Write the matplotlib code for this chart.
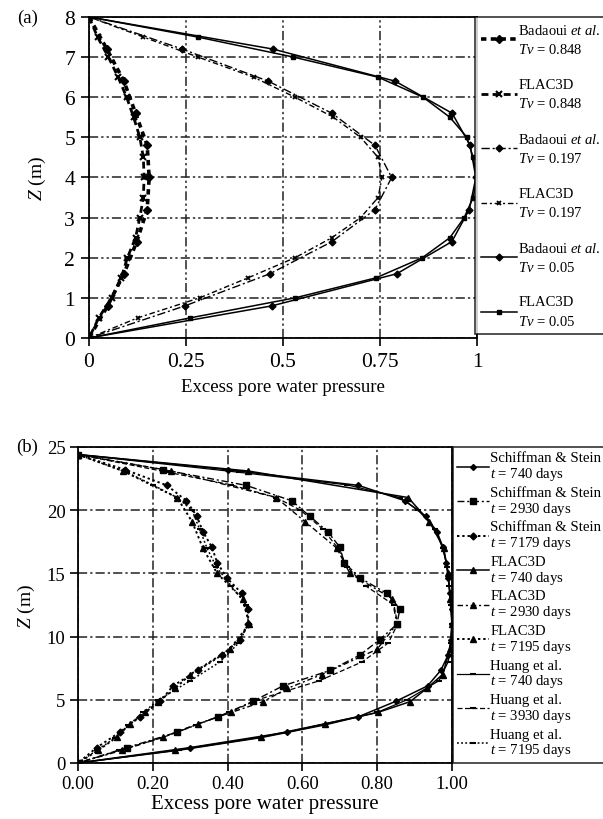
import matplotlib.pyplot as plt
import numpy as np

plt.rcParams['font.family'] = ['Liberation Serif', 'DejaVu Serif']
plt.rcParams['mathtext.fontset'] = 'custom'
plt.rcParams['mathtext.rm'] = 'Liberation Serif'
plt.rcParams['mathtext.it'] = 'Liberation Serif:italic'

# (a) double drained layer, 8 m
z_bad = [8, 7.2, 6.4, 5.6, 4.8, 4.0, 3.2, 2.4, 1.6, 0.8, 0]
z_flac = [8, 7.5, 7, 6.5, 6, 5.5, 5, 4.5, 4, 3.5, 3, 2.5, 2, 1.5, 1, 0.5, 0]

bad_0848 = [0, 0.046, 0.09, 0.12, 0.15, 0.155, 0.15, 0.123, 0.09, 0.048, 0]
flac_0848 = [0, 0.022, 0.05, 0.075, 0.097, 0.115, 0.131, 0.14, 0.142, 0.14,
             0.131, 0.12, 0.099, 0.083, 0.058, 0.025, 0]
bad_0197 = [0, 0.24, 0.462, 0.626, 0.737, 0.78, 0.737, 0.626, 0.466, 0.247, 0]
flac_0197 = [0, 0.14, 0.281, 0.424, 0.531, 0.63, 0.70, 0.745, 0.755, 0.745,
             0.70, 0.626, 0.531, 0.41, 0.285, 0.125, 0]
bad_005 = [0, 0.474, 0.789, 0.936, 0.982, 0.997, 0.98, 0.935, 0.793, 0.471, 0]
flac_005 = [0, 0.28, 0.527, 0.745, 0.861, 0.93, 0.974, 0.99, 1.0, 0.99,
            0.967, 0.93, 0.859, 0.74, 0.531, 0.26, 0]

# (b) Schiffman & Stein layered clay, 24.4 m
z_ss = [24.4, 23.2, 21.96, 20.74, 19.52, 18.3, 17.08, 15.86, 14.64, 13.42,
        12.2, 10.98, 9.76, 8.54, 7.32, 6.1, 4.88, 3.66, 2.44, 1.22, 0]
z_fl = [24.4, 23.1, 21.0, 19.1, 17.0, 15.0, 13.0, 11.0, 9.0, 7.0, 5.9, 4.85,
        4.0, 3.1, 2.05, 1.0, 0]
z_hu = [24.4, 23.0, 22.0, 21.0, 20.0, 18.5, 17.0, 15.5, 14.0, 12.5, 11.0,
        9.5, 8.0, 6.5, 5.0, 4.0, 3.0, 2.0, 1.0, 0]

ss_740 = [0, 0.40, 0.75, 0.875, 0.93, 0.96, 0.976, 0.985, 0.99, 0.995, 1.0,
          1.0, 0.998, 0.99, 0.97, 0.935, 0.85, 0.75, 0.559, 0.30, 0]
ss_2930 = [0, 0.228, 0.45, 0.572, 0.62, 0.668, 0.70, 0.712, 0.754, 0.826,
           0.861, 0.853, 0.807, 0.754, 0.674, 0.548, 0.468, 0.375, 0.265,
           0.131, 0]
ss_7179 = [0, 0.126, 0.238, 0.29, 0.318, 0.334, 0.358, 0.372, 0.398, 0.438,
           0.455, 0.455, 0.433, 0.385, 0.32, 0.254, 0.22, 0.166, 0.112, 0.05, 0]

fl_740 = [0, 0.455, 0.883, 0.94, 0.978, 0.99, 0.995, 1.0, 0.995, 0.975,
          0.933, 0.888, 0.802, 0.66, 0.49, 0.26, 0]
fl_2930 = [0, 0.25, 0.53, 0.607, 0.692, 0.727, 0.84, 0.853, 0.80, 0.652,
           0.56, 0.495, 0.41, 0.32, 0.228, 0.117, 0]
fl_7195 = [0, 0.12, 0.265, 0.305, 0.334, 0.372, 0.44, 0.458, 0.406, 0.30,
           0.26, 0.215, 0.18, 0.139, 0.104, 0.054, 0]

hu_740 = [0, 0.43, 0.72, 0.86, 0.91, 0.955, 0.975, 0.988, 0.993, 0.998, 1.0,
          0.998, 0.99, 0.965, 0.88, 0.80, 0.66, 0.49, 0.27, 0]
hu_3930 = [0, 0.24, 0.41, 0.53, 0.595, 0.655, 0.695, 0.72, 0.77, 0.845,
           0.855, 0.83, 0.76, 0.645, 0.48, 0.405, 0.315, 0.225, 0.11, 0]
hu_7195 = [0, 0.13, 0.20, 0.265, 0.305, 0.325, 0.345, 0.37, 0.41, 0.45,
           0.456, 0.43, 0.38, 0.30, 0.215, 0.175, 0.135, 0.10, 0.05, 0]

fig = plt.figure(figsize=(6.03, 8.2), dpi=100)

# ---------------- (a) ----------------
ax1 = fig.add_axes([0.1476, 0.5866, 0.6435, 0.3915])
k = dict(color='black')
ax1.plot(bad_0848, z_bad, ls=(0, (1.5, 1.2)), lw=2.6, marker='D', ms=4, **k,
         label='Badaoui $et$ $al.$\n$Tv$ = 0.848')
ax1.plot(flac_0848, z_flac, ls=(0, (2.5, 1.5)), lw=2.0, marker='x', ms=4, mew=1.5, **k,
         label='FLAC3D\n$Tv$ = 0.848')
ax1.plot(bad_0197, z_bad, ls=(0, (6, 2, 1.5, 2)), lw=1.0, marker='D', ms=3.5, **k,
         label='Badaoui $et$ $al.$\n$Tv$ = 0.197')
ax1.plot(flac_0197, z_flac, ls=(0, (4, 2, 1.5, 2)), lw=1.0, marker='x', ms=3.5, mew=1.3, **k,
         label='FLAC3D\n$Tv$ = 0.197')
ax1.plot(bad_005, z_bad, ls='-', lw=1.1, marker='D', ms=3.5, **k,
         label='Badaoui $et$ $al.$\n$Tv$ = 0.05')
ax1.plot(flac_005, z_flac, ls='-', lw=1.1, marker='s', ms=2.5, **k,
         label='FLAC3D\n$Tv$ = 0.05')

ax1.set_xlim(0, 1)
ax1.set_ylim(0, 8)
ax1.set_xticks([0, 0.25, 0.5, 0.75, 1])
ax1.set_xticklabels(['0', '0.25', '0.5', '0.75', '1'])
ax1.set_yticks(range(0, 9))
ax1.tick_params(direction='out', length=6, width=1.2, labelsize=15.5, pad=4)
ax1.grid(True, ls=(0, (6, 2, 1.5, 2, 1.5, 2)), lw=1.1, color='#222222')
for s in ax1.spines.values():
    s.set_linewidth(1.3)
ax1.set_xlabel('Excess pore water pressure', fontsize=13.5, labelpad=5)
ax1.set_ylabel('$Z$ (m)', fontsize=14, labelpad=12)
fig.text(0.045, 0.978, '(a)', fontsize=13.5, ha='center', va='center')

leg1 = ax1.legend(loc='upper left', bbox_to_anchor=(0.995, 1.0), fontsize=10.5,
                  frameon=True, fancybox=False, edgecolor='black',
                  handlelength=2.5, handletextpad=0.05, borderpad=0.4,
                  labelspacing=1.47, borderaxespad=0)
leg1.get_frame().set_linewidth(1.2)
for t in leg1.get_texts():
    t.set_linespacing(1.5)

# ---------------- (b) ----------------
ax2 = fig.add_axes([0.1294, 0.0683, 0.620, 0.3854])
ax2.plot(ss_740, z_ss, ls='-', lw=1.1, marker='D', ms=3, **k,
         label='Schiffman & Stein\n$t$ = 740 days')
ax2.plot(ss_2930, z_ss, ls=(0, (5, 2, 1.5, 2)), lw=1.0, marker='s', ms=4, **k,
         label='Schiffman & Stein\n$t$ = 2930 days')
ax2.plot(ss_7179, z_ss, ls=(0, (1.2, 1.5)), lw=1.4, marker='D', ms=3.5, **k,
         label='Schiffman & Stein\n$t$ = 7179 days')
ax2.plot(fl_740, z_fl, ls='-', lw=1.1, marker='^', ms=4, **k,
         label='FLAC3D\n$t$ = 740 days')
ax2.plot(fl_2930, z_fl, ls=(0, (4, 2, 1.5, 2)), lw=1.0, marker='^', ms=4, **k,
         label='FLAC3D\n$t$ = 2930 days')
ax2.plot(fl_7195, z_fl, ls=(0, (1.2, 1.5)), lw=1.4, marker='^', ms=4, **k,
         label='FLAC3D\n$t$ = 7195 days')
ax2.plot(hu_740, z_hu, ls='-', lw=0.9, marker='_', ms=4, mew=1.5, **k,
         label='Huang et al.\n$t$ = 740 days')
ax2.plot(hu_3930, z_hu, ls=(0, (4, 2)), lw=0.9, marker='_', ms=4, mew=1.5, **k,
         label='Huang et al.\n$t$ = 3930 days')
ax2.plot(hu_7195, z_hu, ls=(0, (1.2, 1.5)), lw=1.1, marker='_', ms=4, mew=1.5, **k,
         label='Huang et al.\n$t$ = 7195 days')

ax2.set_xlim(0, 1)
ax2.set_ylim(0, 25)
ax2.set_xticks([0, 0.2, 0.4, 0.6, 0.8, 1.0])
ax2.set_xticklabels(['0.00', '0.20', '0.40', '0.60', '0.80', '1.00'])
ax2.set_yticks([0, 5, 10, 15, 20, 25])
ax2.tick_params(direction='out', length=6, width=1.2, labelsize=13.5, pad=3)
ax2.grid(True, ls=(0, (6, 2, 1.5, 2)), lw=1.1, color='#222222')
for s in ax2.spines.values():
    s.set_linewidth(1.3)
ax2.set_xlabel('Excess pore water pressure', fontsize=15, labelpad=1)
ax2.set_ylabel('$Z$ (m)', fontsize=14, labelpad=7)
fig.text(0.045, 0.454, '(b)', fontsize=13.5, ha='center', va='center')

leg2 = ax2.legend(loc='upper left', bbox_to_anchor=(1.002, 1.0), fontsize=10.6,
                  frameon=True, fancybox=False, edgecolor='black',
                  handlelength=2.2, handletextpad=0.05, borderpad=0.3,
                  labelspacing=0.25, borderaxespad=0)
leg2.get_frame().set_linewidth(1.2)
for t in leg2.get_texts():
    t.set_linespacing(1.07)

fig.savefig('out.png', dpi=100)
